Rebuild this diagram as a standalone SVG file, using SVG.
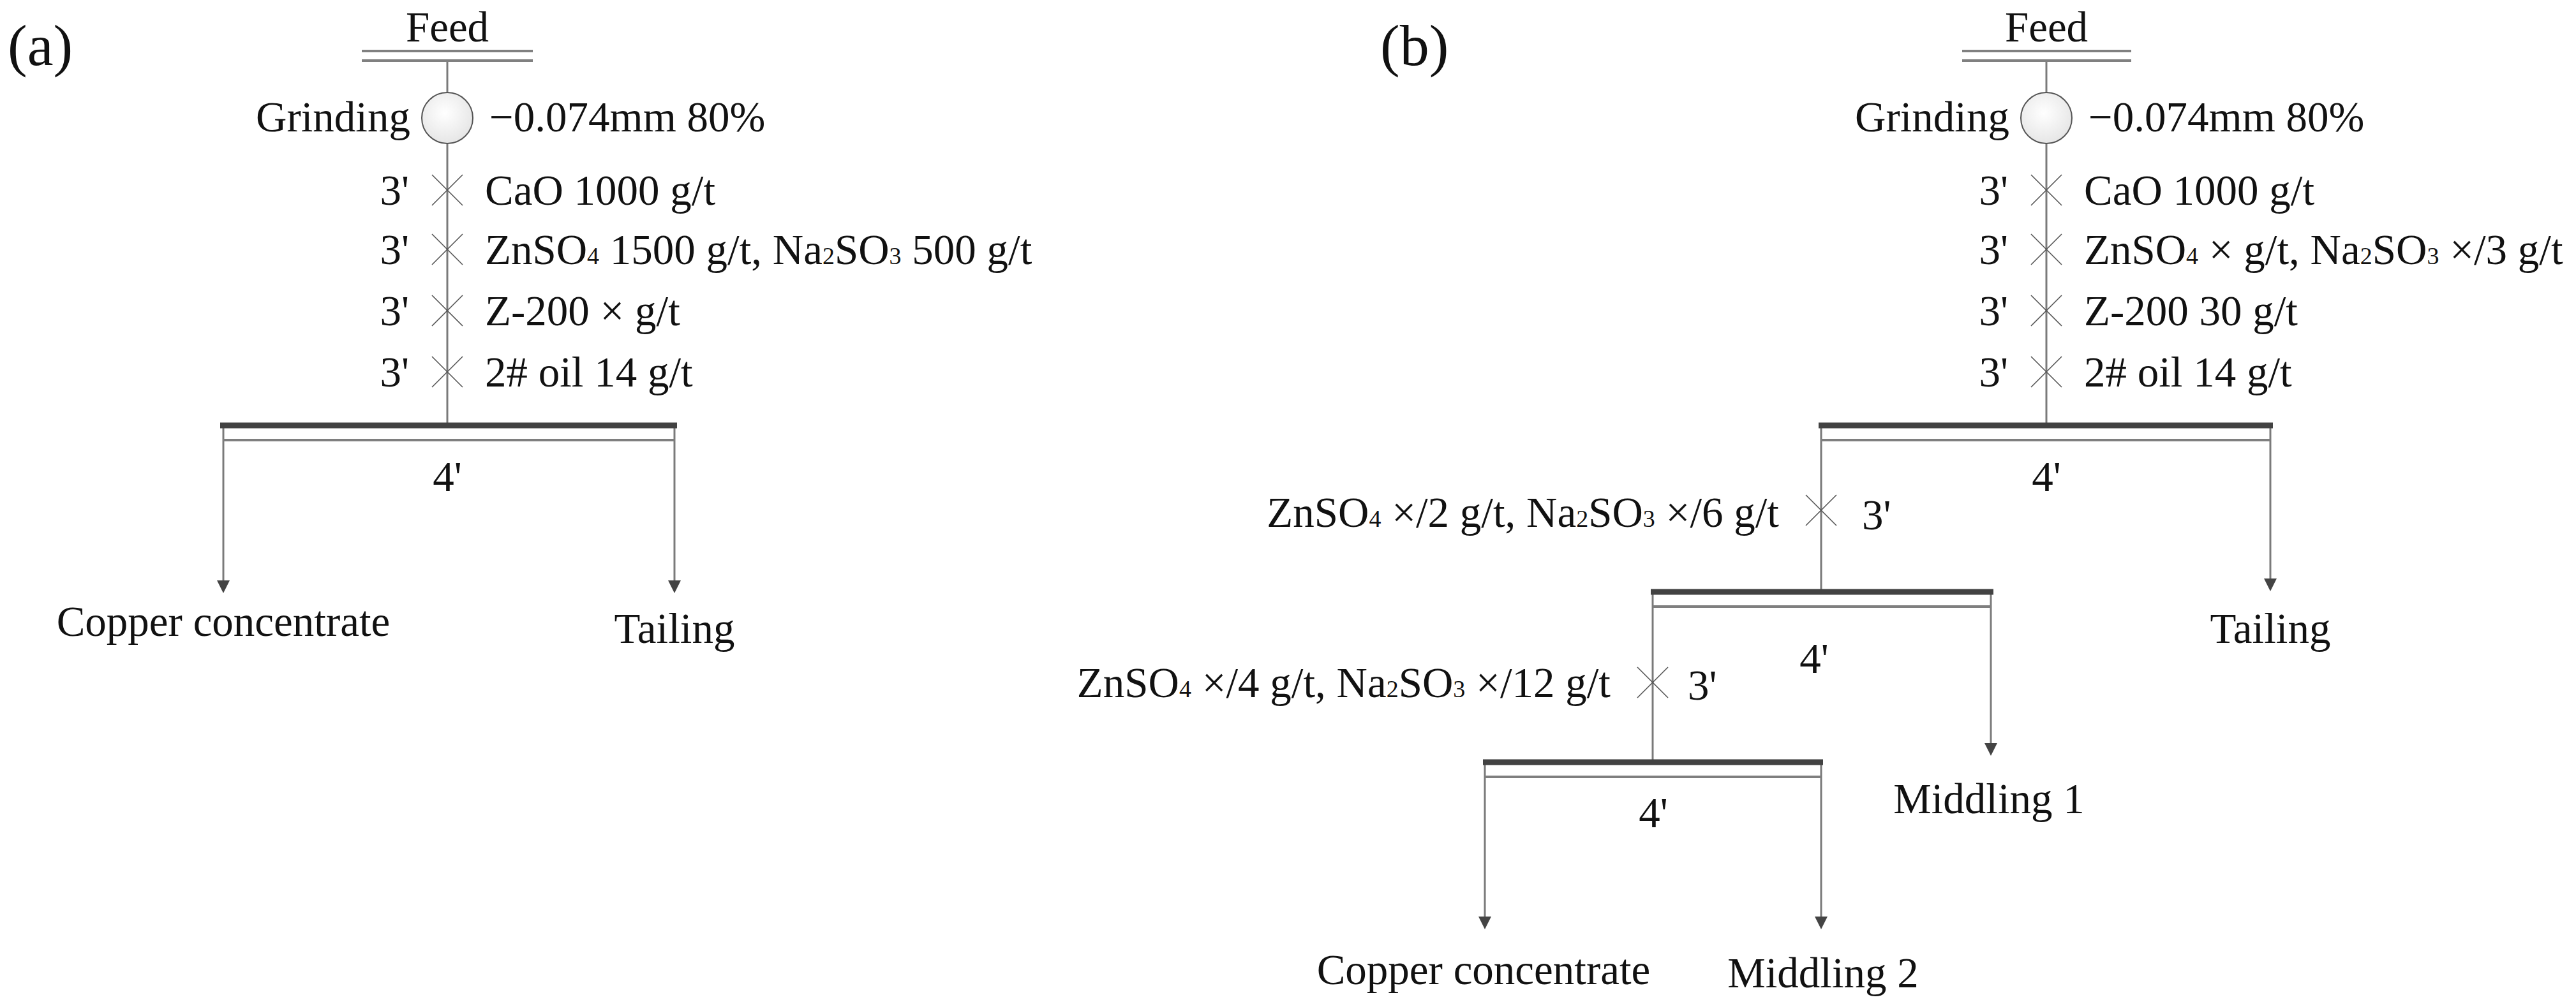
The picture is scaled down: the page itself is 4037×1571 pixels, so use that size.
<svg xmlns="http://www.w3.org/2000/svg" width="4037" height="1571" viewBox="0 0 4037 1571">
<style>
text{font-family:"Liberation Serif","Times New Roman",serif;font-size:67px;fill:#111}
.big{font-size:92px}
.sub{font-size:38px}
.mid{text-anchor:middle}
.end{text-anchor:end}
.ln{stroke:#7a7a7a;stroke-width:3;fill:none}
.feed{stroke:#808080;stroke-width:4}
.thick{stroke:#424242;stroke-width:9}
.thin{stroke:#7f7f7f;stroke-width:4}
.x{stroke:#555;stroke-width:1.6}
.mill{fill:url(#mg);stroke:#555;stroke-width:2}
</style>
<defs>
<radialGradient id="mg" cx="0.45" cy="0.4" r="0.65">
<stop offset="0" stop-color="#ffffff"/>
<stop offset="1" stop-color="#e4e4e4"/>
</radialGradient>
<marker id="arr" markerUnits="userSpaceOnUse" markerWidth="20" markerHeight="20" refX="10" refY="10" orient="auto" viewBox="0 0 20 20">
<path d="M0,0 L20,10 L0,20 z" fill="#444"/>
</marker>
<path id="xm" d="M-24,-24 L24,24 M-24,24 L24,-24" class="x"/>
</defs>
<rect width="4037" height="1571" fill="#fff"/>

<g id="connectors">
<line class="ln" x1="701" y1="95" x2="701" y2="145"/>
<line class="ln" x1="701" y1="225" x2="701" y2="663"/>
<line class="ln" x1="350" y1="667" x2="350" y2="920" marker-end="url(#arr)"/>
<line class="ln" x1="1057" y1="667" x2="1057" y2="920" marker-end="url(#arr)"/>
<line class="ln" x1="3207" y1="95" x2="3207" y2="145"/>
<line class="ln" x1="3207" y1="225" x2="3207" y2="663"/>
<line class="ln" x1="2854" y1="667" x2="2854" y2="924"/>
<line class="ln" x1="3558" y1="667" x2="3558" y2="917" marker-end="url(#arr)"/>
<line class="ln" x1="2590" y1="928" x2="2590" y2="1191"/>
<line class="ln" x1="3120" y1="928" x2="3120" y2="1175" marker-end="url(#arr)"/>
<line class="ln" x1="2327" y1="1195" x2="2327" y2="1447" marker-end="url(#arr)"/>
<line class="ln" x1="2854" y1="1195" x2="2854" y2="1447" marker-end="url(#arr)"/>
</g>

<text id="label-a" class="big" x="12" y="102">(a)</text>

<g id="a-feed">
<text class="mid" x="701" y="65">Feed</text>
<line class="feed" x1="567" y1="80" x2="835" y2="80"/>
<line class="feed" x1="567" y1="95" x2="835" y2="95"/>
</g>

<g id="a-grinding">
<circle class="mill" cx="701" cy="185" r="40"/>
<text class="end" x="643" y="206">Grinding</text>
<text x="767" y="206">−0.074mm 80%</text>
</g>

<g id="a-reagents">
<use href="#xm" x="701" y="298"/>
<text class="end" x="641" y="321">3'</text>
<text x="760" y="321">CaO 1000 g/t</text>
<use href="#xm" x="701" y="391"/>
<text class="end" x="641" y="414">3'</text>
<text x="760" y="414">ZnSO<tspan class="sub">4</tspan> 1500 g/t, Na<tspan class="sub">2</tspan>SO<tspan class="sub">3</tspan> 500 g/t</text>
<use href="#xm" x="701" y="487"/>
<text class="end" x="641" y="510">3'</text>
<text x="760" y="510">Z-200 × g/t</text>
<use href="#xm" x="701" y="583"/>
<text class="end" x="641" y="606">3'</text>
<text x="760" y="606">2# oil 14 g/t</text>
</g>

<g id="a-flotation">
<line class="thick" x1="345" y1="667" x2="1061" y2="667"/>
<line class="thin" x1="350" y1="690" x2="1057" y2="690"/>
<text class="mid" x="701" y="770">4'</text>
</g>

<g id="a-concentrate"><text class="mid" x="350" y="997">Copper concentrate</text></g>
<g id="a-tailing"><text class="mid" x="1057" y="1008">Tailing</text></g>

<text id="label-b" class="big" x="2163" y="102">(b)</text>

<g id="b-feed">
<text class="mid" x="3207" y="65">Feed</text>
<line class="feed" x1="3075" y1="80" x2="3340" y2="80"/>
<line class="feed" x1="3075" y1="95" x2="3340" y2="95"/>
</g>

<g id="b-grinding">
<circle class="mill" cx="3207" cy="185" r="40"/>
<text class="end" x="3149" y="206">Grinding</text>
<text x="3273" y="206">−0.074mm 80%</text>
</g>

<g id="b-reagents">
<use href="#xm" x="3207" y="298"/>
<text class="end" x="3147" y="321">3'</text>
<text x="3266" y="321">CaO 1000 g/t</text>
<use href="#xm" x="3207" y="391"/>
<text class="end" x="3147" y="414">3'</text>
<text x="3266" y="414">ZnSO<tspan class="sub">4</tspan> × g/t, Na<tspan class="sub">2</tspan>SO<tspan class="sub">3</tspan> ×/3 g/t</text>
<use href="#xm" x="3207" y="487"/>
<text class="end" x="3147" y="510">3'</text>
<text x="3266" y="510">Z-200 30 g/t</text>
<use href="#xm" x="3207" y="583"/>
<text class="end" x="3147" y="606">3'</text>
<text x="3266" y="606">2# oil 14 g/t</text>
</g>

<g id="b-rougher">
<line class="thick" x1="2850" y1="667" x2="3562" y2="667"/>
<line class="thin" x1="2854" y1="690" x2="3558" y2="690"/>
<text class="mid" x="3207" y="770">4'</text>
</g>

<g id="b-cleaner1-reagents">
<use href="#xm" x="2854" y="800"/>
<text class="end" x="2788" y="826">ZnSO<tspan class="sub">4</tspan> ×/2 g/t, Na<tspan class="sub">2</tspan>SO<tspan class="sub">3</tspan> ×/6 g/t</text>
<text x="2918" y="830">3'</text>
</g>

<g id="b-cleaner1">
<line class="thick" x1="2587" y1="928" x2="3124" y2="928"/>
<line class="thin" x1="2590" y1="951" x2="3120" y2="951"/>
<text class="mid" x="2843" y="1055">4'</text>
</g>

<g id="b-cleaner2-reagents">
<use href="#xm" x="2590" y="1070"/>
<text class="end" x="2524" y="1093">ZnSO<tspan class="sub">4</tspan> ×/4 g/t, Na<tspan class="sub">2</tspan>SO<tspan class="sub">3</tspan> ×/12 g/t</text>
<text x="2645" y="1097">3'</text>
</g>

<g id="b-cleaner2">
<line class="thick" x1="2324" y1="1195" x2="2857" y2="1195"/>
<line class="thin" x1="2327" y1="1218" x2="2854" y2="1218"/>
<text class="mid" x="2591" y="1297">4'</text>
</g>

<g id="b-tailing"><text class="mid" x="3558" y="1008">Tailing</text></g>
<g id="b-middling1"><text class="mid" x="3117" y="1275">Middling 1</text></g>
<g id="b-concentrate"><text class="mid" x="2325" y="1543">Copper concentrate</text></g>
<g id="b-middling2"><text class="mid" x="2857" y="1548">Middling 2</text></g>
</svg>
